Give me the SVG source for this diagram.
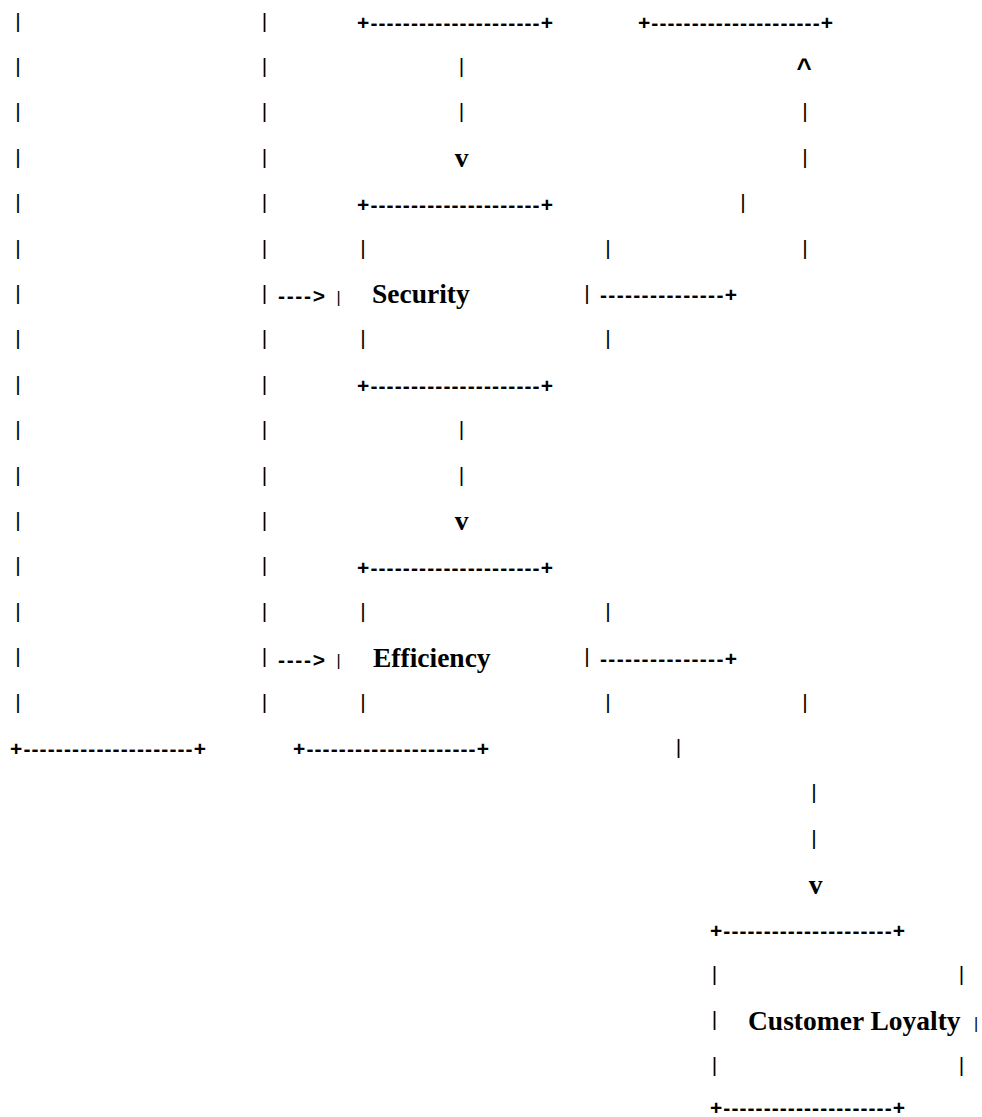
<svg xmlns="http://www.w3.org/2000/svg" width="982" height="1117" viewBox="0 0 982 1117">
<style>
text{fill:#000}
.p{font-family:"Liberation Sans",Arial,sans-serif;font-size:21px;text-anchor:middle}
.ps{font-family:"Liberation Sans",Arial,sans-serif;font-size:16px;text-anchor:middle}
.l{font-family:"Liberation Sans",Arial,sans-serif;font-size:21px;font-weight:bold}
.w{font-family:"Liberation Serif","Times New Roman",serif;font-size:27.5px;font-weight:bold}
.v{font-family:"Liberation Serif","Times New Roman",serif;font-size:27.5px;font-weight:bold;text-anchor:middle}
.c{font-family:"Liberation Sans",Arial,sans-serif;font-size:26px;font-weight:bold;text-anchor:middle}
</style>
<rect width="982" height="1117" fill="#fff"/>
<g id="left-box">
<text class="p" x="18" y="27.5">|</text>
<text class="p" x="18" y="72.9">|</text>
<text class="p" x="18" y="118.3">|</text>
<text class="p" x="18" y="163.7">|</text>
<text class="p" x="18" y="209.1">|</text>
<text class="p" x="18" y="254.5">|</text>
<text class="p" x="18" y="299.9">|</text>
<text class="p" x="18" y="345.3">|</text>
<text class="p" x="18" y="390.7">|</text>
<text class="p" x="18" y="436.1">|</text>
<text class="p" x="18" y="481.5">|</text>
<text class="p" x="18" y="526.9">|</text>
<text class="p" x="18" y="572.3">|</text>
<text class="p" x="18" y="617.7">|</text>
<text class="p" x="18" y="663.1">|</text>
<text class="p" x="18" y="708.5">|</text>
<text class="l" x="10" y="756.4" textLength="196" lengthAdjust="spacing">+---------------------+</text>
</g>
<g id="middle-box">
<text class="p" x="264.5" y="27.5">|</text>
<text class="p" x="264.5" y="72.9">|</text>
<text class="p" x="264.5" y="118.3">|</text>
<text class="p" x="264.5" y="163.7">|</text>
<text class="p" x="264.5" y="209.1">|</text>
<text class="p" x="264.5" y="254.5">|</text>
<text class="p" x="264.5" y="299.9">|</text>
<text class="p" x="264.5" y="345.3">|</text>
<text class="p" x="264.5" y="390.7">|</text>
<text class="p" x="264.5" y="436.1">|</text>
<text class="p" x="264.5" y="481.5">|</text>
<text class="p" x="264.5" y="526.9">|</text>
<text class="p" x="264.5" y="572.3">|</text>
<text class="p" x="264.5" y="617.7">|</text>
<text class="p" x="264.5" y="663.1">|</text>
<text class="p" x="264.5" y="708.5">|</text>
<text class="l" x="293" y="756.4" textLength="196" lengthAdjust="spacing">+---------------------+</text>
</g>
<g id="top-box">
<text class="l" x="357" y="30" textLength="196" lengthAdjust="spacing">+---------------------+</text>
</g>
<g id="top-right-box">
<text class="l" x="638" y="30" textLength="195" lengthAdjust="spacing">+---------------------+</text>
</g>
<g id="security">
<text class="l" x="357" y="211.6" textLength="196" lengthAdjust="spacing">+---------------------+</text>
<text class="p" x="363" y="254.5">|</text>
<text class="p" x="608" y="254.5">|</text>
<text class="ps" x="338.5" y="302.9">|</text>
<text class="w" x="372" y="303.4">Security</text>
<text class="p" x="587" y="299.9">|</text>
<text class="p" x="363" y="345.3">|</text>
<text class="p" x="608" y="345.3">|</text>
<text class="l" x="357" y="393.2" textLength="196" lengthAdjust="spacing">+---------------------+</text>
</g>
<g id="efficiency">
<text class="l" x="357" y="574.8" textLength="196" lengthAdjust="spacing">+---------------------+</text>
<text class="p" x="363" y="617.7">|</text>
<text class="p" x="608" y="617.7">|</text>
<text class="ps" x="338.5" y="666.1">|</text>
<text class="w" x="373" y="666.6">Efficiency</text>
<text class="p" x="587" y="663.1">|</text>
<text class="p" x="363" y="708.5">|</text>
<text class="p" x="608" y="708.5">|</text>
</g>
<g id="customer-loyalty">
<text class="l" x="710" y="938" textLength="195" lengthAdjust="spacing">+---------------------+</text>
<text class="p" x="714.5" y="980.9">|</text>
<text class="p" x="961.5" y="980.9">|</text>
<text class="p" x="714.5" y="1026.3">|</text>
<text class="w" x="748" y="1029.8">Customer Loyalty</text>
<text class="ps" x="976" y="1029.3">|</text>
<text class="p" x="714.5" y="1071.7">|</text>
<text class="p" x="961.5" y="1071.7">|</text>
<text class="l" x="710" y="1115" textLength="195" lengthAdjust="spacing">+---------------------+</text>
</g>
<g id="connectors">
<text class="p" x="461.5" y="72.9">|</text>
<text class="p" x="461.5" y="118.3">|</text>
<text class="v" x="461.5" y="167.2">v</text>
<text class="p" x="461.5" y="436.1">|</text>
<text class="p" x="461.5" y="481.5">|</text>
<text class="v" x="461.5" y="530.4">v</text>
<text class="c" x="804" y="77">^</text>
<text class="p" x="805" y="118.3">|</text>
<text class="p" x="805" y="163.7">|</text>
<text class="p" x="743" y="209.1">|</text>
<text class="p" x="805" y="254.5">|</text>
<text class="l" x="278" y="303.4" textLength="47" lengthAdjust="spacing">----&gt;</text>
<text class="l" x="600" y="302.4" textLength="137" lengthAdjust="spacing">---------------+</text>
<text class="l" x="278" y="666.6" textLength="47" lengthAdjust="spacing">----&gt;</text>
<text class="l" x="600" y="665.6" textLength="137" lengthAdjust="spacing">---------------+</text>
<text class="p" x="805" y="708.5">|</text>
<text class="p" x="678.5" y="753.9">|</text>
<text class="p" x="814" y="799.3">|</text>
<text class="p" x="814" y="844.7">|</text>
<text class="v" x="815.5" y="893.6">v</text>
</g>
</svg>
